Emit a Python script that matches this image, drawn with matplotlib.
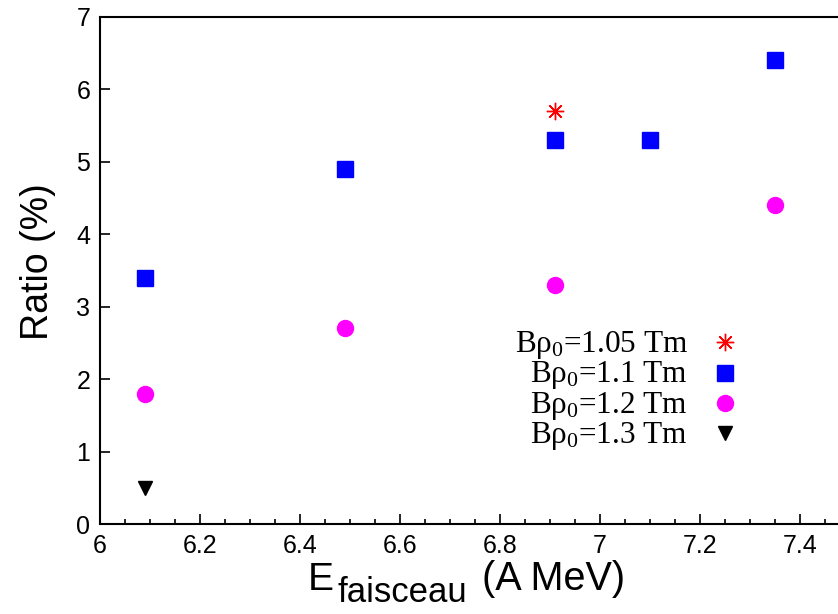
import matplotlib
matplotlib.use("Agg")
import matplotlib.pyplot as plt
from matplotlib.ticker import MultipleLocator, FuncFormatter

# Data
e_105 = [6.91]
r_105 = [5.7]
e_110 = [6.09, 6.49, 6.91, 7.10, 7.35]
r_110 = [3.4, 4.9, 5.3, 5.3, 6.4]
e_120 = [6.09, 6.49, 6.91, 7.35]
r_120 = [1.8, 2.7, 3.3, 4.4]
e_130 = [6.09]
r_130 = [0.5]
labels = [r"B$\rho_0$=1.05 Tm", r"B$\rho_0$=1.1 Tm", r"B$\rho_0$=1.2 Tm", r"B$\rho_0$=1.3 Tm"]

plt.rcParams['font.family'] = ['Liberation Sans', 'DejaVu Sans']
plt.rcParams['mathtext.fontset'] = 'custom'
plt.rcParams['mathtext.rm'] = 'Liberation Serif'
plt.rcParams['mathtext.it'] = 'Liberation Serif'

W, H = 838, 614
fig = plt.figure(figsize=(W / 100, H / 100), dpi=100)
# axes runs off the right edge of the picture, like the reference
ax = fig.add_axes([100 / W, 90 / H, 750 / W, 507 / H])

star = (8, 2, 0)
styles = [
    dict(marker=star, color='red', ms=12.5, mew=1.0),
    dict(marker='s', color='blue', ms=11.5),
    dict(marker='o', color='magenta', ms=11.5),
    dict(marker='v', color='black', ms=10.5),
]
series = [(e_105, r_105), (e_110, r_110), (e_120, r_120), (e_130, r_130)]
for (x, y), st in zip(series, styles):
    ax.plot(x, y, linestyle='none', **st)

# hand-made key: right-aligned text, marker to the right
for i, (lab, st) in enumerate(zip(labels, styles)):
    ym = 2.51 - 0.42 * i
    ax.text(7.176, ym - 0.135, lab, ha='right', va='baseline',
            fontsize=22.5, family='Liberation Serif')
    ax.plot([7.25], [ym], linestyle='none', clip_on=False, **st)

ax.set_xlim(6, 7.5)
ax.set_ylim(0, 7)
ax.xaxis.set_major_locator(MultipleLocator(0.2))
ax.xaxis.set_minor_locator(MultipleLocator(0.05))
ax.yaxis.set_major_locator(MultipleLocator(1))
ax.xaxis.set_major_formatter(FuncFormatter(lambda v, p: f"{v:g}"))

ax.tick_params(which='both', direction='in', top=False, right=False, width=1.2)
ax.tick_params(which='major', length=7, labelsize=18, pad=7)
ax.tick_params(which='minor', length=3.5)
for s in ax.spines.values():
    s.set_linewidth(1.5)

ax.set_ylabel('Ratio (%)', fontsize=27)
ax.yaxis.set_label_coords(-0.058, 0.517)

# x label with a big gnuplot-style subscript
fig.text(308 / W, 24 / H, 'E', fontsize=28, ha='left', va='baseline')
fig.text(337 / W, 12 / H, 'faisceau', fontsize=25, ha='left', va='baseline')
fig.text(482 / W, 24 / H, '(A MeV)', fontsize=28.5, ha='left', va='baseline')

fig.savefig('out.png', dpi=100)
